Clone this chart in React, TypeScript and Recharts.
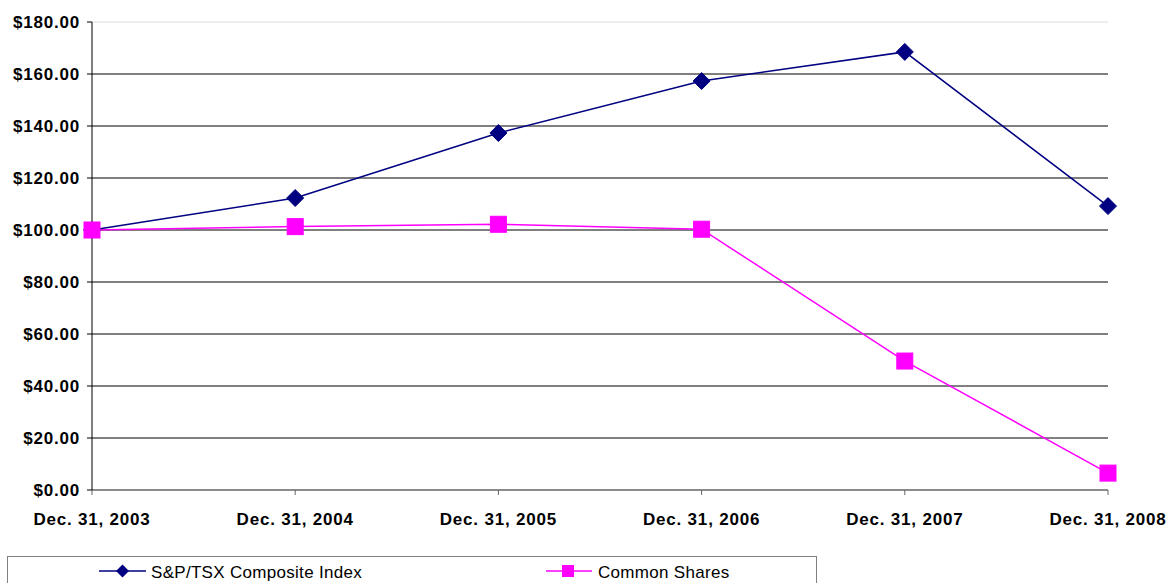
import React from 'react';
import { LineChart, Line, XAxis, YAxis, ReferenceLine } from 'recharts';

const categories = ['Dec. 31, 2003', 'Dec. 31, 2004', 'Dec. 31, 2005', 'Dec. 31, 2006', 'Dec. 31, 2007', 'Dec. 31, 2008'];
const spTsx = [100, 112.3, 137.3, 157.3, 168.5, 109.2];
const commonShares = [100, 101.3, 102.2, 100.3, 49.6, 6.5];
const yTicks = [0, 20, 40, 60, 80, 100, 120, 140, 160, 180];

const data = categories.map((c, i) => ({ name: c, sp: spTsx[i], cs: commonShares[i] }));

const NAVY = '#000080';
const MAGENTA = '#FF00FF';
const FONT = 'Arial, "Liberation Sans", sans-serif';

const Diamond = (props: any) => {
  const { cx, cy } = props;
  if (cx == null || cy == null) return null;
  const r = 8.5;
  return <polygon points={`${cx},${cy - r} ${cx + r},${cy} ${cx},${cy + r} ${cx - r},${cy}`} fill={NAVY} stroke={NAVY} />;
};

const Square = (props: any) => {
  const { cx, cy } = props;
  if (cx == null || cy == null) return null;
  const s = 8;
  return <rect x={cx - s} y={cy - s} width={2 * s} height={2 * s} fill={MAGENTA} stroke={MAGENTA} />;
};

const fmt = (v: number) => `$${v.toFixed(2)}`;

const tickStyle = { fill: '#000', fontSize: 17, fontWeight: 'bold', fontFamily: FONT, letterSpacing: 0.8 };

export default function App() {
  return (
    <div style={{ position: 'absolute', left: 0, top: 0, width: 1168, height: 583, background: '#fff', overflow: 'hidden', fontFamily: FONT }}>
      <LineChart width={1168} height={583} data={data} margin={{ top: 22, right: 60, bottom: 0, left: 0 }}>
        {yTicks.filter(t => t > 0).map(t => (
          <ReferenceLine key={t} y={t} stroke={t === 180 ? '#dddddd' : '#000000'} strokeWidth={1} ifOverflow="extendDomain" />
        ))}
        <XAxis
          dataKey="name"
          height={93}
          tickSize={5}
          tickMargin={18}
          interval={0}
          axisLine={{ stroke: '#666666', strokeWidth: 1.5 }}
          tickLine={{ stroke: '#666666' }}
          tick={tickStyle}
        />
        <YAxis
          domain={[0, 180]}
          ticks={yTicks}
          width={92}
          tickSize={5}
          tickMargin={7}
          tickFormatter={fmt}
          axisLine={{ stroke: '#000' }}
          tickLine={{ stroke: '#000' }}
          tick={tickStyle}
        />
        <Line dataKey="sp" stroke={NAVY} strokeWidth={1.5} dot={<Diamond />} activeDot={false} isAnimationActive={false} />
        <Line dataKey="cs" stroke={MAGENTA} strokeWidth={1.5} dot={<Square />} activeDot={false} isAnimationActive={false} />
      </LineChart>
      <div style={{ position: 'absolute', left: 7, top: 556, width: 810, height: 40, border: '1px solid #808080', boxSizing: 'border-box', background: '#fff' }}>
        <svg width={810} height={40} style={{ position: 'absolute', left: 0, top: 0 }}>
          <line x1={91} x2={138} y1={14} y2={14} stroke={NAVY} strokeWidth={1.5} />
          <polygon points="114.5,7.5 121,14 114.5,20.5 108,14" fill={NAVY} />
          <text x={143} y={20.5} fontSize={17} letterSpacing={0.3} fontFamily={FONT} fill="#000">S&amp;P/TSX Composite Index</text>
          <line x1={538} x2={584} y1={14} y2={14} stroke={MAGENTA} strokeWidth={1.5} />
          <rect x={554} y={8} width={12} height={12} fill={MAGENTA} />
          <text x={590} y={20.5} fontSize={17} letterSpacing={0.3} fontFamily={FONT} fill="#000">Common Shares</text>
        </svg>
      </div>
    </div>
  );
}
